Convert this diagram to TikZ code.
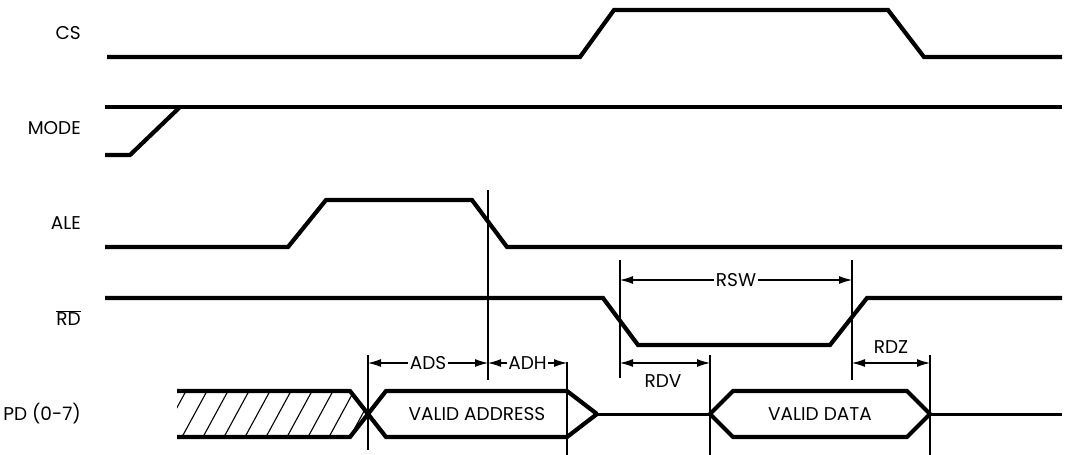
\documentclass[tikz,border=0pt]{standalone}
\usepackage{fontspec}
\setmainfont{Poppins}
\usetikzlibrary{arrows.meta}
\begin{document}
\begin{tikzpicture}[x=1pt,y=-1pt,
  sig/.style={line width=4.2pt, line join=miter, line cap=butt},
  bus/.style={line width=3pt},
  guide/.style={line width=1.2pt},
  hatch/.style={line width=1.1pt},
  dim/.style={line width=1.1pt, {Latex[length=13pt,width=8pt]}-{Latex[length=13pt,width=8pt]}},
  lab/.style={font=\fontsize{18.5}{20}\selectfont, anchor=east, inner sep=0pt},
  dlab/.style={font=\fontsize{18.5}{20}\selectfont, fill=white, inner sep=1.5pt},
  tlab/.style={font=\fontsize{18.5}{20}\selectfont, inner sep=0pt},
]
\useasboundingbox (0,0) rectangle (1071,455);

% signal names
\node[lab] (cs) at (81,33) {CS};
\node[lab] (mode) at (81,128) {MODE};
\node[lab] (ale) at (81,223) {ALE};
\node[lab] (rd) at (81,318) {$\overline{\mbox{RD}}$};
\node[lab] (pd) at (81,414) {PD (0-7)};

% CS
\draw[sig] (107,57) -- (580,57) -- (614,10) -- (888,10) -- (924,57) -- (1062,57);
% MODE
\draw[sig] (105,107) -- (1062,107);
\draw[sig] (105,155) -- (130,155) -- (180,107);
% ALE
\draw[sig] (105,247) -- (288,247) -- (326,200) -- (472,200) -- (507,247) -- (1062,247);
% RD
\draw[sig] (105,298) -- (603,298) -- (638,345) -- (830,345) -- (867,298) -- (1062,298);

% PD bus
\begin{scope}
  \clip (177,391) -- (350,391) -- (368,414) -- (350,437) -- (177,437) -- cycle;
  \foreach \x in {161,182,...,360} \draw[hatch] (\x,437) -- (\x+25,391);
\end{scope}
\draw[sig] (177,391) -- (350,391) -- (386,437) -- (567,437) -- (597,414);
\draw[sig] (177,437) -- (350,437) -- (386,391) -- (567,391) -- (597,414);
\node[tlab] (va) at (477,414) {VALID ADDRESS};
\draw[bus] (597,414) -- (710,414);
\draw[sig] (710,414) -- (733,391) -- (907,391) -- (930,414) -- (907,437) -- (733,437) -- cycle;
\node[tlab] (vd) at (820,414) {VALID DATA};
\draw[bus] (930,414) -- (1062,414);

% guide lines
\coordinate (g1t) at (488,190); \coordinate (g1b) at (488,380);
\coordinate (g2t) at (368,355); \coordinate (g2b) at (368,450);
\coordinate (g3t) at (567,362); \coordinate (g3b) at (567,455);
\coordinate (g4t) at (620,260); \coordinate (g4b) at (620,378);
\coordinate (g5t) at (852,260); \coordinate (g5b) at (852,380);
\coordinate (g6t) at (710,355); \coordinate (g6b) at (710,455);
\coordinate (g7t) at (930,355); \coordinate (g7b) at (930,455);
\foreach \g in {g1,g2,g3,g4,g5,g6,g7} \draw[guide] (\g t) -- (\g b);

% dimensions
\coordinate (ads1) at (368,363); \coordinate (ads2) at (488,363); \coordinate (adh2) at (567,363);
\draw[dim] (ads1) -- node[dlab] (ads) {ADS} (ads2);
\draw[dim] (ads2) -- node[dlab] (adh) {ADH} (adh2);
\coordinate (rsw1) at (620,280); \coordinate (rsw2) at (852,280);
\draw[dim] (rsw1) -- node[dlab] (rsw) {RSW} (rsw2);
\coordinate (rdv1) at (620,363); \coordinate (rdv2) at (710,363);
\draw[dim] (rdv1) -- (rdv2);
\node[tlab] (rdv) at (663,381) {RDV};
\coordinate (rdz1) at (852,363); \coordinate (rdz2) at (930,363);
\draw[dim] (rdz1) -- (rdz2);
\node[tlab] (rdz) at (891,347) {RDZ};
\end{tikzpicture}
\end{document}
